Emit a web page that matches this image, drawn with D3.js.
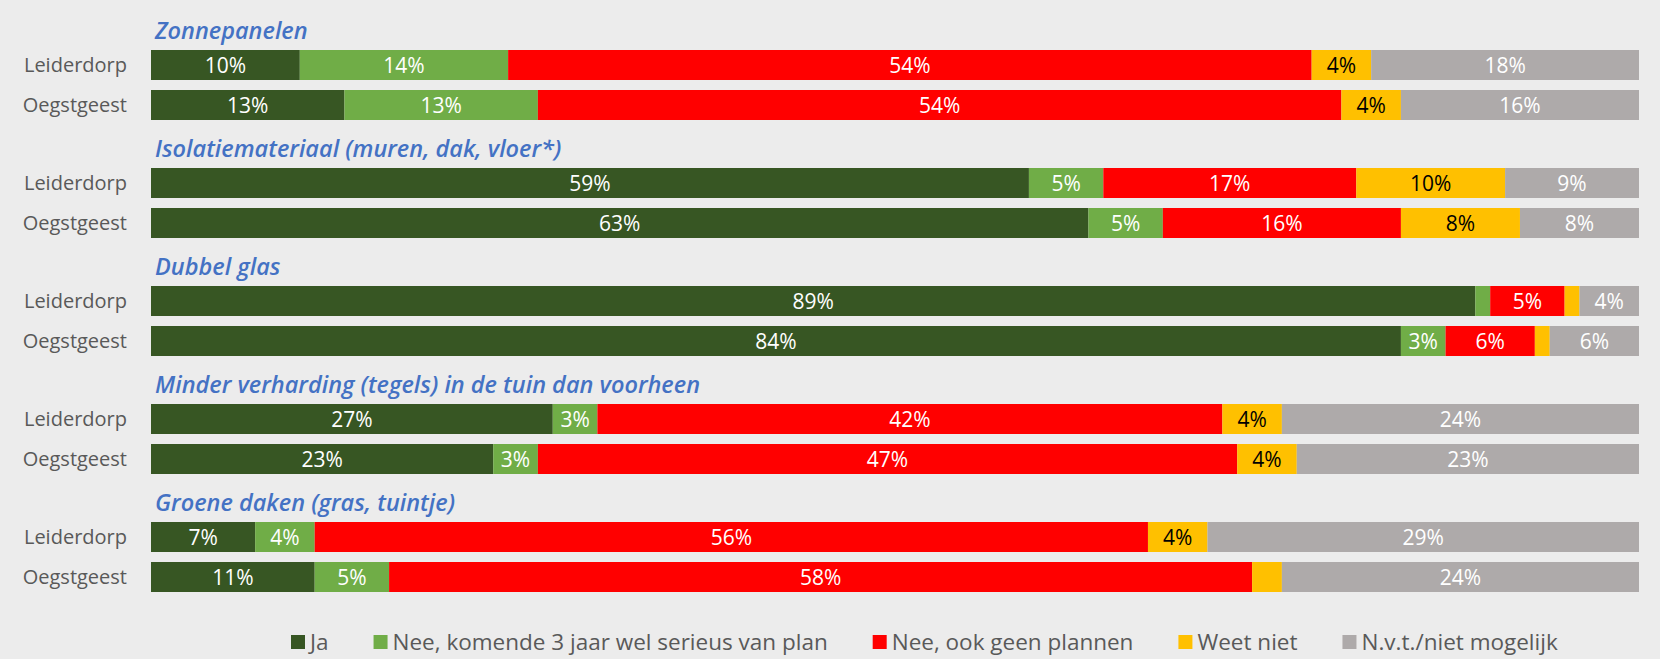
<!DOCTYPE html>
<html>
<head>
<meta charset="utf-8">
<script src="https://cdn.jsdelivr.net/npm/d3@7"></script>
<style>
  html, body { margin: 0; padding: 0; background: #ECECEC; }
  svg { display: block; font-family: "Open Sans", "Noto Sans", sans-serif; }
</style>
</head>
<body>
<svg id="chart" width="1660" height="659"></svg>
<script>
// ---- data ----
const groups = [
  "Zonnepanelen",
  "Isolatiemateriaal (muren, dak, vloer*)",
  "Dubbel glas",
  "Minder verharding (tegels) in de tuin dan voorheen",
  "Groene daken (gras, tuintje)"
];
const places = ["Leiderdorp", "Oegstgeest"];
const seriesNames = ["Ja", "Nee, komende 3 jaar wel serieus van plan", "Nee, ook geen plannen", "Weet niet", "N.v.t./niet mogelijk"];
const seriesColors = ["#375623", "#70AD47", "#FF0000", "#FFC000", "#AEAAAA"];
const labelColors = ["#FFFFFF", "#FFFFFF", "#FFFFFF", "#000000", "#FFFFFF"];
// values per group: [Leiderdorp, Oegstgeest], each in series order
const zonnepanelen = [[10, 14, 54, 4, 18], [13, 13, 54, 4, 16]];
const isolatie     = [[59, 5, 17, 10, 9], [63, 5, 16, 8, 8]];
const dubbelGlas   = [[89, 1, 5, 1, 4], [84, 3, 6, 1, 6]];
const verharding   = [[27, 3, 42, 4, 24], [23, 3, 47, 4, 23]];
const groeneDaken  = [[7, 4, 56, 4, 29], [11, 5, 58, 2, 24]];
const groupValues = [zonnepanelen, isolatie, dubbelGlas, verharding, groeneDaken];

// ---- layout ----
const svg = d3.select("#chart");
const W = 1660, H = 659;
svg.append("rect").attr("width", W).attr("height", H).attr("fill", "#ECECEC");

const x = d3.scaleLinear().domain([0, 100]).range([151, 1639]);
const yGroup = d3.scaleBand().domain(groups).range([12, 12 + 118 * groups.length]).paddingInner(0);
const yRow = d3.scaleBand().domain(places).range([38, 108]).paddingInner(0.25).paddingOuter(0);

const rows = [];
groups.forEach((g, gi) => {
  places.forEach((p, pi) => {
    const vals = groupValues[gi][pi];
    let cum = 0;
    const segs = vals.map((v, si) => {
      const s = { group: g, place: p, series: si, value: v, x0: cum, x1: cum + v };
      cum += v;
      return s;
    });
    rows.push({ group: g, place: p, segs });
  });
});

const gGroups = svg.selectAll("g.group").data(groups).join("g")
  .attr("class", "group")
  .attr("transform", d => `translate(0,${yGroup(d)})`);

// group titles
gGroups.append("text")
  .attr("x", 155)
  .attr("y", yRow(places[0]) - 11)
  .attr("fill", "#4472C4")
  .attr("font-size", 23.5)
  .attr("font-weight", 600)
  .attr("font-style", "italic")
  .text(d => d);

// row labels
gGroups.selectAll("text.cat").data(d => places.map(p => ({ g: d, p })))
  .join("text")
  .attr("class", "cat")
  .attr("x", 127)
  .attr("y", d => yRow(d.p) + yRow.bandwidth() / 2)
  .attr("dy", "0.35em")
  .attr("text-anchor", "end")
  .attr("fill", "#595959")
  .attr("font-size", 20)
  .text(d => d.p);

// bars
const rowG = gGroups.selectAll("g.row").data(g => rows.filter(r => r.group === g))
  .join("g").attr("class", "row")
  .attr("transform", d => `translate(0,${yRow(d.place)})`);

rowG.selectAll("rect").data(d => d.segs).join("rect")
  .attr("x", d => x(d.x0))
  .attr("width", d => x(d.x1) - x(d.x0))
  .attr("y", 0)
  .attr("height", yRow.bandwidth())
  .attr("fill", d => seriesColors[d.series]);

rowG.selectAll("text").data(d => d.segs.filter(s => s.value >= 3)).join("text")
  .attr("x", d => (x(d.x0) + x(d.x1)) / 2)
  .attr("y", yRow.bandwidth() / 2)
  .attr("dy", "0.36em")
  .attr("text-anchor", "middle")
  .attr("font-size", 21)
  .attr("fill", d => labelColors[d.series])
  .text(d => d.value + "%");

// legend
const legend = svg.append("g").attr("transform", "translate(291,642)");
let lx = 0;
seriesNames.forEach((name, i) => {
  const item = legend.append("g").attr("transform", `translate(${lx},0)`);
  item.append("rect").attr("x", 0).attr("y", -7).attr("width", 14).attr("height", 14).attr("fill", seriesColors[i]);
  const t = item.append("text").attr("x", 19).attr("y", 0).attr("dy", "0.35em")
    .attr("font-size", 22.5).attr("fill", "#595959").text(name);
  lx += 19 + t.node().getComputedTextLength() + 45;
});
</script>
</body>
</html>
